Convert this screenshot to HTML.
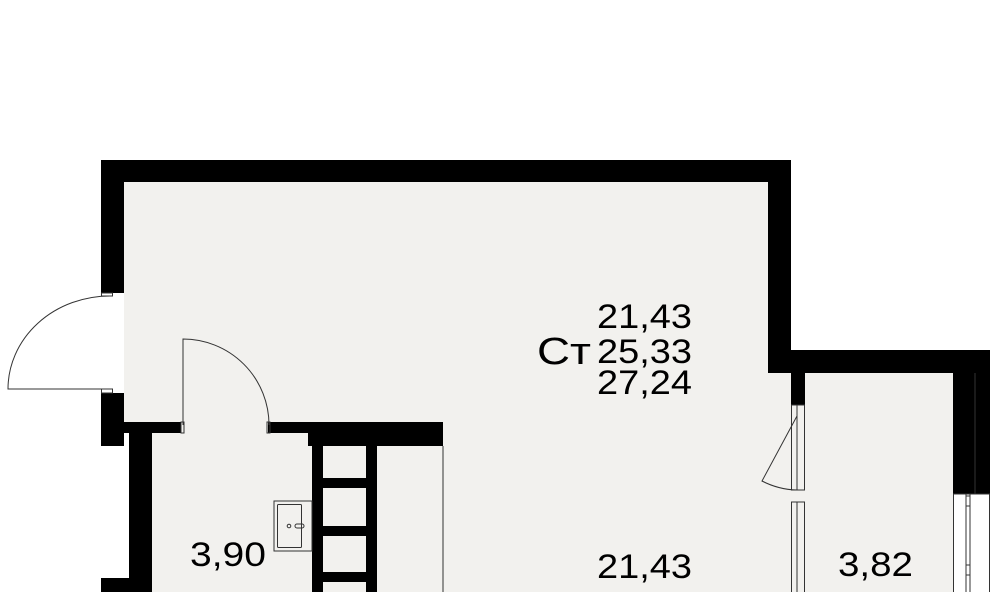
<!DOCTYPE html>
<html><head><meta charset="utf-8"><style>
html,body{margin:0;padding:0;background:#fff;width:1000px;height:592px;overflow:hidden}
text{font-family:"Liberation Sans",sans-serif;fill:#000}
</style></head><body>
<svg width="1000" height="592" viewBox="0 0 1000 592" xmlns="http://www.w3.org/2000/svg">
<rect x="124" y="182" width="644" height="410" fill="#f2f1ee"/>
<rect x="768" y="373" width="185" height="219" fill="#f2f1ee"/>
<rect x="101" y="446" width="28" height="146" fill="#fff"/>
<rect x="124" y="433" width="5" height="159" fill="#fff"/>
<g fill="#000">
<rect x="101" y="160" width="690" height="22"/>
<rect x="101" y="160" width="23" height="133"/>
<rect x="101" y="393" width="23" height="53"/>
<rect x="101" y="422" width="80" height="11"/>
<rect x="129" y="422" width="23" height="170"/>
<rect x="101" y="578" width="28" height="14"/>
<rect x="268" y="422" width="175" height="11"/>
<rect x="308" y="422" width="135" height="24"/>
<rect x="312" y="446" width="11" height="146"/>
<rect x="366" y="446" width="11" height="146"/>
<rect x="323" y="478" width="43" height="10"/>
<rect x="323" y="526" width="43" height="10"/>
<rect x="323" y="572" width="43" height="10"/>
<rect x="768" y="160" width="23" height="213"/>
<rect x="768" y="350" width="222" height="23"/>
<rect x="791" y="373" width="14" height="32"/>
<rect x="953" y="373" width="37" height="121"/>
</g>
<g fill="none" stroke="#333" stroke-width="1">
<line x1="443" y1="446" x2="443" y2="592"/>
<line x1="975" y1="373" x2="975" y2="494"/>
<rect x="101.5" y="293" width="11" height="3" fill="#fff"/>
<rect x="101.5" y="389" width="11" height="4" fill="#fff"/>
<path d="M110 296 A102 93 0 0 0 8 389 L110 389"/>
<path d="M183 425 L183 339 A86 86 0 0 1 269 425"/>
<rect x="181" y="422" width="3" height="11"/>
<rect x="267" y="422" width="3" height="11"/>
<rect x="274" y="501" width="38" height="50"/>
<rect x="277.5" y="504.5" width="24" height="43" rx="1"/>
<circle cx="289" cy="526" r="1.8"/>
<rect x="295" y="524" width="9" height="4" rx="2"/>
<rect x="791.5" y="405" width="13" height="85"/>
<line x1="797" y1="405" x2="797" y2="490"/>
<path d="M797 416 L762 481 A80 80 0 0 0 797 490"/>
<rect x="791.5" y="502" width="13" height="92"/>
<line x1="797" y1="502" x2="797" y2="592"/>
<rect x="953.5" y="494" width="36" height="100" fill="#fff"/>
<line x1="966" y1="494" x2="966" y2="592"/>
<line x1="970" y1="494" x2="970" y2="592"/>
<rect x="966" y="496" width="4" height="10"/>
<rect x="966" y="565" width="4" height="10"/>
</g>
<g font-size="34">
<text x="597" y="328" textLength="95" lengthAdjust="spacingAndGlyphs">21,43</text>
<text x="597" y="363" textLength="95" lengthAdjust="spacingAndGlyphs">25,33</text>
<text x="597" y="394" textLength="95" lengthAdjust="spacingAndGlyphs">27,24</text>
<text x="537" y="364" font-size="38" textLength="54" lengthAdjust="spacingAndGlyphs">Ст</text>
<text x="190" y="566" textLength="76" lengthAdjust="spacingAndGlyphs">3,90</text>
<text x="597" y="578" textLength="95" lengthAdjust="spacingAndGlyphs">21,43</text>
<text x="838" y="576" textLength="75" lengthAdjust="spacingAndGlyphs">3,82</text>
</g>
</svg>
</body></html>
